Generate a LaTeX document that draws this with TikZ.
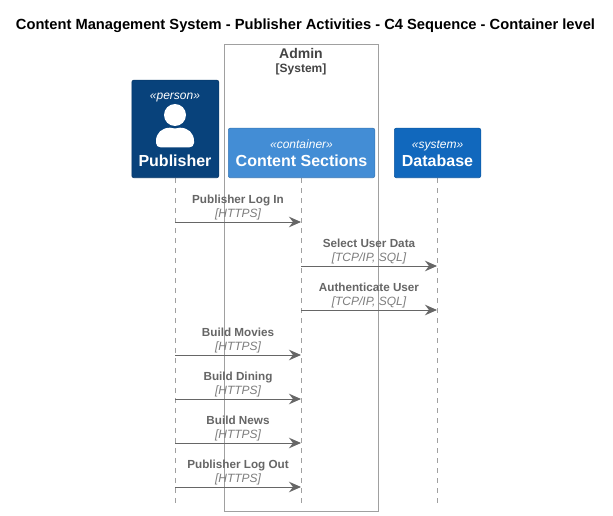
\documentclass[tikz,border=0pt]{standalone}
\usepackage{fontspec}
\setmainfont{Liberation Sans}
\usetikzlibrary{arrows.meta}
\definecolor{personc}{HTML}{08427B}
\definecolor{containerc}{HTML}{438DD5}
\definecolor{systemc}{HTML}{1168BD}
\definecolor{edgec}{HTML}{666666}
\definecolor{framec}{HTML}{A0A0A0}
\definecolor{framet}{HTML}{444444}
\tikzset{
  actorbox/.style={rounded corners=2pt,draw=#1!85!black,line width=.6pt,fill=#1,minimum height=49.5pt,anchor=south west,inner sep=0pt},
  stereo/.style={text=white,font=\fontsize{12}{14}\selectfont\itshape,inner sep=0pt,anchor=base},
  actorname/.style={text=white,font=\fontsize{16}{18}\selectfont\bfseries,inner sep=0pt,anchor=base},
  lifeline/.style={framec,line width=.8pt,dash pattern=on 5pt off 5pt},
  msg/.style={edgec,line width=1pt,-{Stealth[length=12pt,width=10.5pt,inset=4pt]}},
  msgtitle/.style={text=edgec,font=\fontsize{11.7}{14}\selectfont\bfseries,inner sep=0pt,anchor=base},
  msgtech/.style={text=edgec!85,font=\fontsize{12}{14}\selectfont\itshape,inner sep=0pt,anchor=base},
}
\begin{document}
\begin{tikzpicture}[x=1pt,y=-1pt]
\useasboundingbox (0,0) rectangle (613,516);
\fill[white] (0,0) rectangle (613,516);
\node[font=\fontsize{14.7}{16}\selectfont\bfseries,inner sep=0pt,anchor=base] (title) at (305.5,30) {Content Management System - Publisher Activities - C4 Sequence - Container level};
% boundary
\node[draw=framec,line width=1pt,minimum width=154pt,minimum height=467pt,inner sep=0pt] (admin) at (301.5,278) {};
\node[text=framet,font=\fontsize{14}{16}\selectfont\bfseries,inner sep=0pt,anchor=base] (adminname) at (301,58.5) {Admin};
\node[text=framet,font=\fontsize{12}{14}\selectfont\bfseries,inner sep=0pt,anchor=base] (admintype) at (301,73) {[System]};
% lifelines
\coordinate (p0) at (175,178); \coordinate (p1) at (175,504);
\coordinate (c0) at (301,178); \coordinate (c1) at (301,504);
\coordinate (d0) at (437,178); \coordinate (d1) at (437,504);
\draw[lifeline] (p0) -- (p1);
\draw[lifeline] (c0) -- (c1);
\draw[lifeline] (d0) -- (d1);
% actors
\node[actorbox=personc,minimum width=87pt,minimum height=97.5pt] (publisher) at (131.5,178) {};
\node[stereo] (publisherst) at (175,100) {«person»};
\fill[white] (175,115) circle (11pt);
\fill[white] (161,147.5) .. controls (158,147.5) and (156,145.5) .. (156,143) -- (156,141)
  .. controls (156,133) and (162,127.7) .. (170,127.7)
  .. controls (172,127.7) and (173,128.5) .. (175,128.5)
  .. controls (177,128.5) and (178,127.7) .. (180,127.7)
  .. controls (188,127.7) and (194,133) .. (194,141) -- (194,143)
  .. controls (194,145.5) and (192,147.5) .. (189,147.5) -- cycle;
\node[actorname] (publishername) at (175,167) {Publisher};
\node[actorbox=containerc,minimum width=146.5pt] (content) at (228,178) {};
\node[stereo] (contentst) at (301.5,148.5) {«container»};
\node[actorname] (contentname) at (301.5,167) {Content Sections};
\node[actorbox=systemc,minimum width=86.5pt] (database) at (394,178) {};
\node[stereo] (databasest) at (437.5,148.5) {«system»};
\node[actorname] (databasename) at (437.5,167) {Database};
% messages
\foreach \n/\y/\from/\to/\cx/\title/\tech in {
  a/222/p/c/238/Publisher Log In/HTTPS,
  b/266/c/d/369/Select User Data/{TCP/IP, SQL},
  c/310/c/d/369/Authenticate User/{TCP/IP, SQL},
  d/355/p/c/238/Build Movies/HTTPS,
  e/399/p/c/238/Build Dining/HTTPS,
  f/443/p/c/238/Build News/HTTPS,
  g/487/p/c/238/Publisher Log Out/HTTPS}{
  \coordinate (m\n s) at (\from0 |- 0,\y);
  \coordinate (m\n t) at (\to0 |- 0,\y);
  \draw[msg] (m\n s) -- (m\n t);
  \node[msgtitle] (m\n title) at (\cx,\y-19) {\title};
  \node[msgtech] (m\n tech) at (\cx,\y-4.5) {[\tech]};
}
\end{tikzpicture}
\end{document}
